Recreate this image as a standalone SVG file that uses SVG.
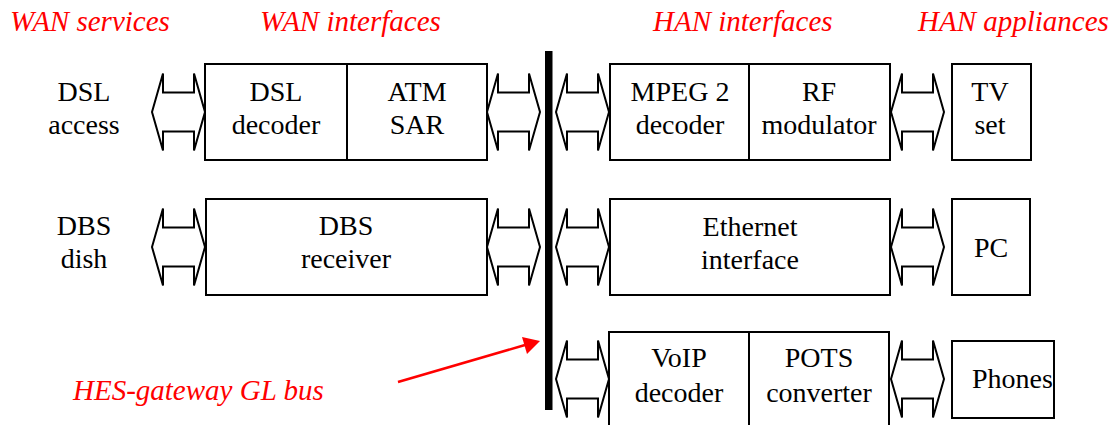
<svg xmlns="http://www.w3.org/2000/svg" width="1118" height="425" viewBox="0 0 1118 425">
<style>
.box{fill:#fff;stroke:#000;stroke-width:2}
.div{stroke:#000;stroke-width:2}
.arr{fill:#fff;stroke:#000;stroke-width:2;stroke-linejoin:miter}
.t{font-family:'Liberation Serif','Times New Roman',serif;font-size:28px;fill:#000;text-anchor:middle}
.h{font-family:'Liberation Serif','Times New Roman',serif;font-size:29px;font-style:italic;fill:#f00}
</style>
<defs>
<path id="da" d="M0,0 L11,-38.5 L11,-19.5 L42,-19.5 L42,-38.5 L53,0 L42,38.5 L42,19.5 L11,19.5 L11,38.5 Z"/>
</defs>
<g id="headings">
<text class="h" x="10" y="31">WAN services</text>
<text class="h" x="260" y="31">WAN interfaces</text>
<text class="h" x="653" y="31">HAN interfaces</text>
<text class="h" x="918" y="31">HAN appliances</text>
</g>
<g id="dsl-access"><text class="t" x="84" y="101">DSL</text><text class="t" x="84" y="134">access</text></g>
<g id="dbs-dish"><text class="t" x="84" y="235">DBS</text><text class="t" x="84" y="268">dish</text></g>
<g id="dsl-atm">
<rect class="box" x="205" y="64" width="282" height="96"/>
<line class="div" x1="347" y1="64" x2="347" y2="160"/>
<text class="t" x="276" y="101">DSL</text><text class="t" x="276" y="134">decoder</text>
<text class="t" x="417" y="101">ATM</text><text class="t" x="417" y="134">SAR</text>
</g>
<g id="dbs-receiver">
<rect class="box" x="206" y="199" width="281" height="96"/>
<text class="t" x="346" y="235">DBS</text><text class="t" x="346" y="268">receiver</text>
</g>
<g id="bus"><rect x="545" y="51" width="7.5" height="359" fill="#000"/></g>
<g id="mpeg-rf">
<rect class="box" x="610" y="64" width="280" height="96"/>
<line class="div" x1="749" y1="64" x2="749" y2="160"/>
<text class="t" x="680" y="101">MPEG 2</text><text class="t" x="680" y="134">decoder</text>
<text class="t" x="819" y="101">RF</text><text class="t" x="819" y="134">modulator</text>
</g>
<g id="ethernet">
<rect class="box" x="610" y="199" width="280" height="96"/>
<text class="t" x="750" y="236">Ethernet</text><text class="t" x="750" y="269">interface</text>
</g>
<g id="voip-pots">
<rect class="box" x="609" y="332" width="280" height="100"/>
<line class="div" x1="749" y1="332" x2="749" y2="432"/>
<text class="t" x="679" y="367">VoIP</text><text class="t" x="679" y="402">decoder</text>
<text class="t" x="819" y="367">POTS</text><text class="t" x="819" y="402">converter</text>
</g>
<g id="tv"><rect class="box" x="952" y="64" width="79" height="96"/><text class="t" x="990" y="101">TV</text><text class="t" x="990" y="134">set</text></g>
<g id="pc"><rect class="box" x="952" y="199" width="78" height="96"/><text class="t" x="991" y="257">PC</text></g>
<g id="phones"><rect class="box" x="952" y="341" width="102" height="77"/><text class="t" x="972" y="388" style="text-anchor:start">Phones</text></g>
<g id="connectors">
<use href="#da" class="arr" x="152" y="112"/>
<use href="#da" class="arr" x="487" y="112"/>
<use href="#da" class="arr" x="556" y="112"/>
<use href="#da" class="arr" x="891" y="112"/>
<use href="#da" class="arr" x="152" y="247"/>
<use href="#da" class="arr" x="487" y="247"/>
<use href="#da" class="arr" x="556" y="247"/>
<use href="#da" class="arr" x="891" y="247"/>
<use href="#da" class="arr" x="556" y="379"/>
<use href="#da" class="arr" x="891" y="379"/>
<line x1="398" y1="382" x2="525" y2="345" stroke="#f00" stroke-width="2.5"/>
<polygon points="540,341 522,337 527,354" fill="#f00"/>
</g>
<g id="bus-label"><text class="h" x="73" y="400">HES-gateway GL bus</text></g>
</svg>
